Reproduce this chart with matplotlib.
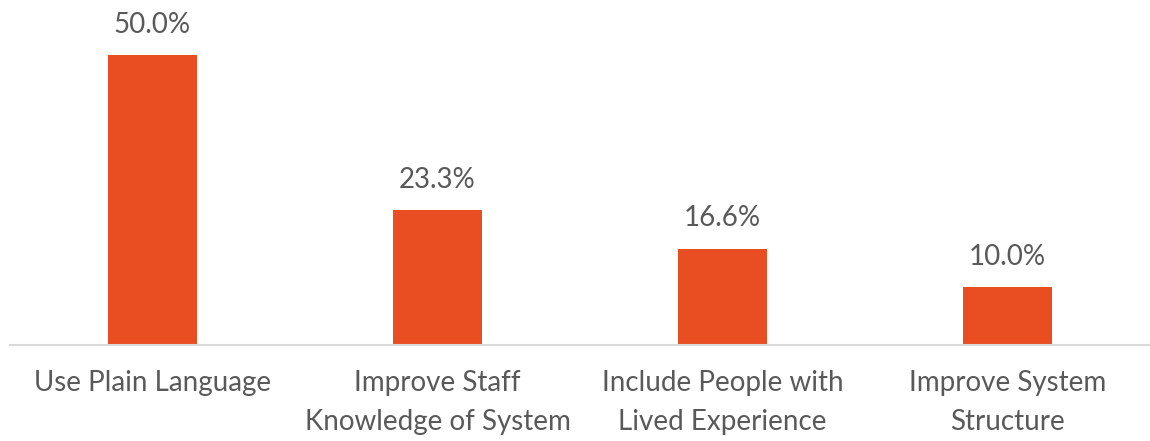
import numpy as np
import matplotlib.pyplot as plt

categories = ["Use Plain Language",
              "Improve Staff\nKnowledge of System",
              "Include People with\nLived Experience",
              "Improve System\nStructure"]
values = [50.0, 23.3, 16.6, 10.0]
value_labels = ["50.0%", "23.3%", "16.6%", "10.0%"]

bar_color = "#E84E22"
text_color = "#595959"

plt.rcParams['font.family'] = ['Lato', 'DejaVu Sans']

fig = plt.figure(figsize=(11.5, 4.41), dpi=100)
ax = fig.add_axes([10 / 1150, 96 / 441, 1140 / 1150, 319 / 441])

x = np.arange(len(categories))
bars = ax.bar(x, values, width=0.315, color=bar_color)

for xi, v, lab in zip(x, values, value_labels):
    ax.annotate(lab, (xi, v), xytext=(0, 16), textcoords='offset points',
                ha='center', va='baseline', fontsize=20, color=text_color)

ax.set_xlim(-0.5, 3.5)
ax.set_ylim(0, 55)
ax.set_xticks(x)
ax.set_xticklabels(categories, fontsize=20, color=text_color, linespacing=1.6)
ax.tick_params(axis='x', length=0, pad=18)
ax.set_yticks([])
for s in ['top', 'right', 'left']:
    ax.spines[s].set_visible(False)
ax.spines['bottom'].set_color('#D9D9D9')
ax.spines['bottom'].set_linewidth(1.5)

fig.savefig("out.png", dpi=100)
